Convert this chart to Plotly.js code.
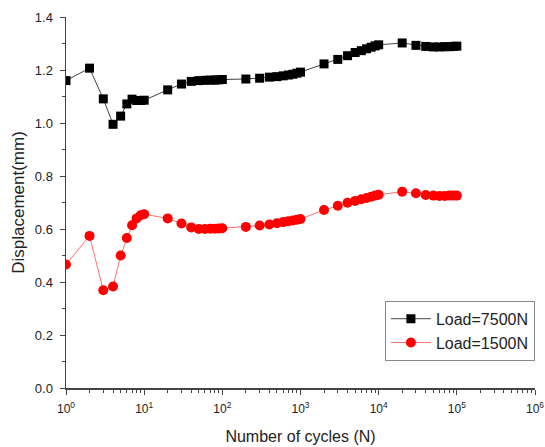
<!DOCTYPE html>
<html>
<head>
<meta charset="utf-8">
<script src="https://cdn.plot.ly/plotly-3.0.1.min.js"></script>
<style>html,body{margin:0;padding:0;background:#fff}#chart{width:545px;height:447px}</style>
</head>
<body>
<div id="chart"></div>
<script>
const cycles = [1,2,3,4,5,6,7,8,9,10,20,30,40,50,60,70,80,90,100,200,300,400,500,600,700,800,900,1000,2000,3000,4000,5000,6000,7000,8000,9000,10000,20000,30000,40000,50000,60000,70000,80000,90000,100000];
const load7500 = [1.160,1.207,1.091,0.995,1.026,1.072,1.090,1.085,1.085,1.086,1.125,1.147,1.157,1.160,1.161,1.162,1.162,1.163,1.164,1.166,1.169,1.173,1.175,1.178,1.181,1.184,1.188,1.192,1.223,1.240,1.254,1.266,1.273,1.280,1.286,1.291,1.295,1.302,1.293,1.289,1.287,1.287,1.288,1.288,1.289,1.290];
const load1500 = [0.466,0.574,0.369,0.383,0.500,0.566,0.614,0.640,0.652,0.656,0.640,0.621,0.606,0.600,0.600,0.601,0.601,0.602,0.603,0.608,0.613,0.617,0.622,0.626,0.629,0.632,0.635,0.638,0.672,0.688,0.699,0.706,0.712,0.717,0.722,0.726,0.729,0.741,0.735,0.728,0.726,0.725,0.725,0.726,0.726,0.726];
const xTickVals = [1,10,100,1000,10000,100000,1000000];
const xTickText = ['10<sup>0</sup>','10<sup>1</sup>','10<sup>2</sup>','10<sup>3</sup>','10<sup>4</sup>','10<sup>5</sup>','10<sup>6</sup>'];
const seriesNames = ['Load=7500N','Load=1500N'];

const traces = [
  {x: cycles, y: load7500, name: seriesNames[0], type: 'scatter', mode: 'lines+markers',
   line: {color: '#444444', width: 1}, marker: {symbol: 'square', size: 9, color: '#000000'}},
  {x: cycles, y: load1500, name: seriesNames[1], type: 'scatter', mode: 'lines+markers',
   line: {color: '#ff7070', width: 1}, marker: {symbol: 'circle', size: 10, color: '#ff0000'}}
];

const layout = {
  width: 545, height: 447,
  margin: {l: 66, r: 10, t: 17, b: 59},
  paper_bgcolor: '#fff', plot_bgcolor: '#fff',
  font: {family: 'Liberation Sans, Arial, sans-serif', color: '#222', size: 12},
  showlegend: true,
  legend: {x: 0.68, y: 0.235, xanchor: 'left', yanchor: 'top', bgcolor: '#fff',
           bordercolor: '#888', borderwidth: 1, font: {size: 16, color: '#222'},
           itemwidth: 40, tracegroupgap: 0},
  xaxis: {type: 'log', range: [0, 6], tickmode: 'array', tickvals: xTickVals, ticktext: xTickText,
          ticks: 'outside', ticklen: 5, tickcolor: '#444', showline: true, linecolor: '#444', linewidth: 1.5,
          showgrid: false, zeroline: false, mirror: false, ticklabelstandoff: 4,
          minor: {ticks: 'outside', ticklen: 3, tickcolor: '#444', dtick: 'D1', showgrid: false},
          title: {text: 'Number of cycles (N)', font: {size: 16, color: '#222'}, standoff: 16},
          tickfont: {size: 12, color: '#222'}},
  yaxis: {range: [0, 1.4], dtick: 0.2, tickformat: '.1f', ticks: 'outside', ticklen: 5, tickcolor: '#444',
          showline: true, linecolor: '#444', linewidth: 1.5, showgrid: false, zeroline: false,
          ticklabelstandoff: 4,
          minor: {ticks: 'outside', ticklen: 3, tickcolor: '#444', dtick: 0.1, showgrid: false},
          title: {text: 'Displacement(mm)', font: {size: 17, color: '#222'}, standoff: 6},
          tickfont: {size: 13, color: '#222'}}
};

Plotly.newPlot('chart', traces, layout, {displayModeBar: false, staticPlot: true});
</script>
</body>
</html>
